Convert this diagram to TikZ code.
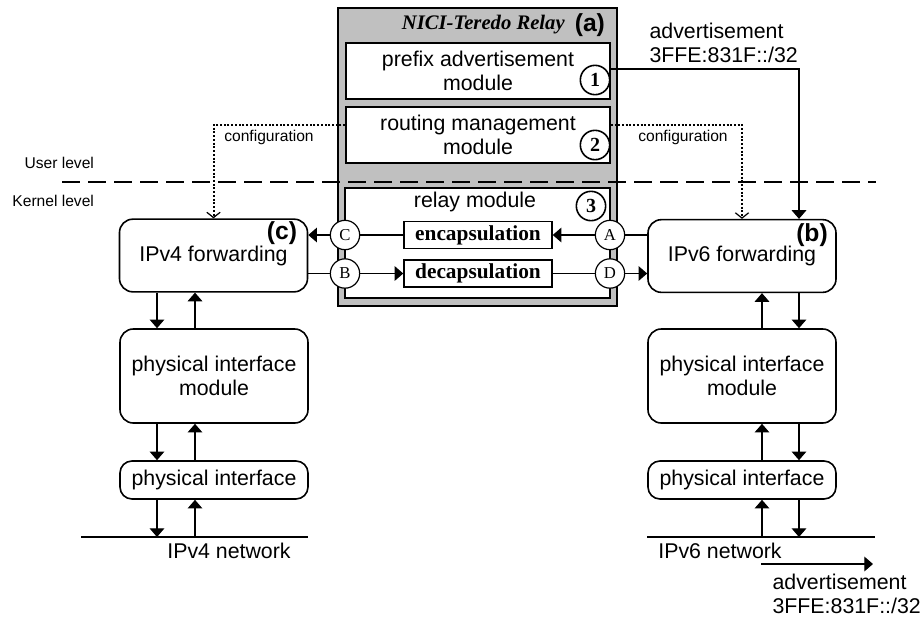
\documentclass[tikz,border=0pt]{standalone}
\usepackage{fontspec}
\setmainfont{Liberation Sans}
\newfontfamily\timesfont{Liberation Serif}
\usetikzlibrary{arrows.meta}
\definecolor{relaygray}{RGB}{192,192,192}
\begin{document}
\begin{tikzpicture}[x=0.75pt,y=-0.75pt,>={Triangle[length=6.5pt,width=11pt]},
        line width=0.9pt,font=\fontsize{16}{18.5}\selectfont,
        block/.style={draw,line width=1.2pt,rounded corners=10pt,align=center,minimum width=141pt},
        module/.style={draw,line width=1.2pt,fill=white,align=center,minimum width=198pt,minimum height=42pt},
        proc/.style={draw,line width=1.1pt,minimum width=111pt,minimum height=20.25pt,inner sep=0pt,font=\timesfont\bfseries\fontsize{16}{16}\selectfont},
        port/.style={draw,circle,fill=white,line width=0.9pt,minimum size=22pt,inner sep=0pt,font=\timesfont\fontsize{12.5}{12.5}\selectfont},
        num/.style={draw,circle,line width=1.2pt,minimum size=22pt,inner sep=0pt,font=\timesfont\bfseries\fontsize{15}{15}\selectfont},
        small/.style={font=\fontsize{11.7}{14}\selectfont},
        tag/.style={font=\bfseries\fontsize{18.5}{20}\selectfont},
        conf/.style={line width=1.5pt,dash pattern=on 1.5pt off 1.3pt,-{Straight Barb[length=4pt,width=10pt,line width=0.9pt]}}]
        \useasboundingbox (0,0) rectangle (922,619);
        %relay
        \node[draw,line width=1.5pt,fill=relaygray,minimum width=209.25pt,minimum height=223.5pt] (relay) at (477.5,157) {};
        \node[anchor=east,tag] (taga) at (610,25) {(a)};
        \node[anchor=east,font=\timesfont\bfseries\itshape\fontsize{15.5}{16}\selectfont] (title) at (taga.west) {NICI-Teredo Relay};
        %levels
        \coordinate (lvlw) at (62,182);
        \coordinate (lvle) at (876,182);
        \draw[line width=2pt,dash pattern=on 13.5pt off 6pt] (lvlw) -- (lvle);
        \node[small,anchor=east] (user) at (99,163) {User level};
        \node[small,anchor=east] (kernel) at (99,201) {Kernel level};
        %modules
        \node[module] (adv) at (478,71) {prefix advertisement\\module};
        \node[num] (n1) at (595,80) {1};
        \node[module] (route) at (478,135) {routing management\\module};
        \node[num] (n2) at (595,145) {2};
        \node[draw,line width=1.2pt,fill=white,minimum width=199pt,minimum height=82.5pt] (relaymod) at (477.5,243) {};
        \node (relaytxt) at (475,202) {relay module};
        \node[num] (n3) at (591,206) {3};
        \node[proc] (encap) at (478,235) {encapsulation};
        \node[proc] (decap) at (478,273.5) {decapsulation};
        \node[port] (C) at (345,235) {C};
        \node[port] (B) at (345,273.5) {B};
        \node[port] (A) at (610,235) {A};
        \node[port] (D) at (610,273.5) {D};
        %IPv4 side
        \node[block,minimum height=54.5pt] (v4fwd) at (213.5,255.5) {IPv4 forwarding};
        \node[tag] (tagc) at (282,233) {(c)};
        \node[block,minimum height=70.5pt] (v4phy) at (214,376) {physical interface\\module};
        \node[block,minimum height=28.5pt,rounded corners=9pt] (v4if) at (214,480) {physical interface};
        \coordinate (net4w) at (81,537);
        \coordinate (net4e) at (308,537);
        \draw (net4w) -- (net4e);
        \node (v4net) at (229,551) {IPv4 network};
        %IPv6 side
        \node[block,minimum height=54.5pt] (v6fwd) at (742,256) {IPv6 forwarding};
        \node[tag] (tagb) at (812,235) {(b)};
        \node[block,minimum height=70.5pt] (v6phy) at (742,376) {physical interface\\module};
        \node[block,minimum height=28.5pt,rounded corners=9pt] (v6if) at (742,480) {physical interface};
        \coordinate (net6w) at (647,537);
        \coordinate (net6e) at (875,537);
        \draw (net6w) -- (net6e);
        \node (v6net) at (720,551) {IPv6 network};
        %relay paths
        \draw[->] (A) -- (encap);
        \draw (encap) -- (C);
        \draw[->] (C) -- (C -| v4fwd.east);
        \draw (v4fwd.east |- B) -- (B);
        \draw[->] (B) -- (decap);
        \draw (decap) -- (D);
        \draw[->] (D) -- (D -| v6fwd.west);
        \draw (v6fwd.west |- A) -- (A);
        %stacks
        \coordinate (v4dn) at (157,0);
        \coordinate (v4up) at (195,0);
        \coordinate (v6up) at (762,0);
        \coordinate (v6dn) at (799,0);
        \foreach \a/\b in {v4fwd/v4phy,v4phy/v4if}{
            \draw[->] (\a.south -| v4dn) -- (\b.north -| v4dn);
            \draw[->] (\b.north -| v4up) -- (\a.south -| v4up);
        }
        \foreach \a/\b in {v6fwd/v6phy,v6phy/v6if}{
            \draw[->] (\a.south -| v6dn) -- (\b.north -| v6dn);
            \draw[->] (\b.north -| v6up) -- (\a.south -| v6up);
        }
        \draw[->] (v4if.south -| v4dn) -- (v4dn |- net4w);
        \draw[->] (v4up |- net4w) -- (v4if.south -| v4up);
        \draw[->] (v6if.south -| v6dn) -- (v6dn |- net6w);
        \draw[->] (v6up |- net6w) -- (v6if.south -| v6up);
        %advertisement
        \coordinate (advy) at (0,69);
        \draw[->] (adv.east |- advy) -| (v6dn |- v6fwd.north);
        \node[anchor=north west,align=left] (advtop) at (644.5,17.5) {advertisement\\3FFE:831F::/32};
        \coordinate (advs) at (761,564);
        \coordinate (adve) at (873,564);
        \draw[->] (advs) -- (adve);
        \node[anchor=north west,align=left] (advbot) at (767.5,568.5) {advertisement\\3FFE:831F::/32};
        %configuration
        \coordinate (cfgy) at (0,125);
        \draw[conf] (route.west |- cfgy) -| (v4fwd.north);
        \draw[conf] (route.east |- cfgy) -| (v6fwd.north);
        \node[small] (cfgl) at (269,137) {configuration};
        \node[small] (cfgr) at (683,137) {configuration};
\end{tikzpicture}
\end{document}
